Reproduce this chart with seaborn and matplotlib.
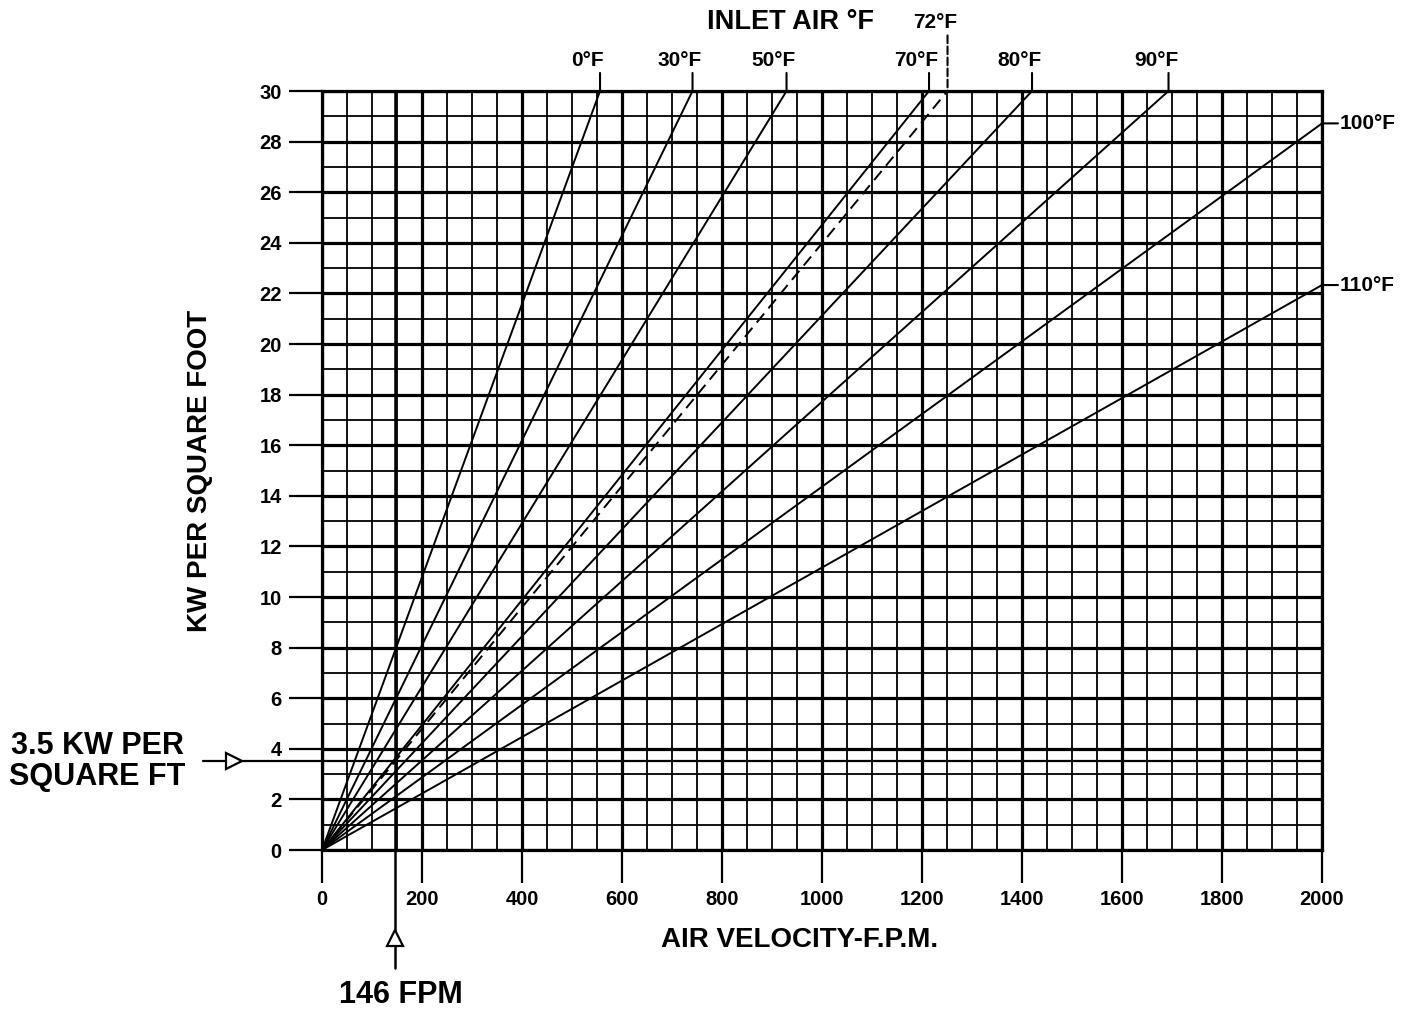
import numpy as np
import pandas as pd
import matplotlib.pyplot as plt
import seaborn as sns

# inlet air temperature lines: each runs from the origin to where it leaves the grid
temps = ["0°F", "30°F", "50°F", "70°F", "72°F", "80°F", "90°F", "100°F", "110°F"]
end_fpm = [556, 741, 929, 1214, 1251, 1420, 1693, 2000, 2000]
end_kw = [30, 30, 30, 30, 30, 30, 30, 28.72, 22.33]
dashed_temps = ["72°F"]

# design point marked by the two arrows
design_kw = 3.5
design_fpm = 146

x_ticks = list(range(0, 2001, 200))
y_ticks = list(range(0, 31, 2))

rows = []
for t, x, y in zip(temps, end_fpm, end_kw):
    rows.append({"temp": t, "fpm": 0, "kw": 0})
    rows.append({"temp": t, "fpm": x, "kw": y})
df = pd.DataFrame(rows)

sns.set_theme(style="white")
plt.rcParams['font.family'] = ['Liberation Sans', 'DejaVu Sans']
plt.rcParams['font.weight'] = 'bold'
plt.rcParams['text.color'] = 'black'
plt.rcParams['axes.labelcolor'] = 'black'
plt.rcParams['xtick.color'] = 'black'
plt.rcParams['ytick.color'] = 'black'

fig = plt.figure(figsize=(14.1, 10.1), dpi=100)
ax = fig.add_axes([0.2284, 0.1584, 0.7092, 0.7515])

# the grid: fine every 50 fpm / 1 kw, heavy every 200 fpm / 2 kw
ax.set_xlim(0, 2000)
ax.set_ylim(0, 30)
ax.set_xticks(x_ticks)
ax.set_yticks(y_ticks)
ax.set_xticks(np.arange(0, 2001, 50), minor=True)
ax.set_yticks(np.arange(0, 31, 1), minor=True)
ax.grid(which='major', color='black', lw=2.3, zorder=0)
ax.grid(which='minor', color='black', lw=1.3, zorder=0)
ax.set_axisbelow(True)
for s in ax.spines.values():
    s.set_linewidth(2.3)
    s.set_color('black')

ax.tick_params(which='major', direction='out', length=24, width=1.6, color='black',
               labelcolor='black', labelsize=14.5, pad=5, bottom=True, left=True)
ax.tick_params(which='minor', length=0)
for lab in ax.get_xticklabels() + ax.get_yticklabels():
    lab.set_fontweight('bold')

palette = {t: 'black' for t in temps}
dashes = {t: ((6, 3.5) if t in dashed_temps else "") for t in temps}
sns.lineplot(data=df, x="fpm", y="kw", hue="temp", style="temp", palette=palette,
             dashes=dashes, estimator=None, sort=False, legend=False, lw=1.4, ax=ax)

# leaders and temperature labels
for t, x, y in zip(temps, end_fpm, end_kw):
    ls = '--' if t in dashed_temps else '-'
    if y >= 30:
        up = 40 if t in dashed_temps else 13
        ax.annotate("", xy=(x, y), xytext=(0, up), textcoords='offset points',
                    arrowprops=dict(arrowstyle='-', lw=1.5, ls=ls, color='black',
                                    shrinkA=0, shrinkB=0), annotation_clip=False)
        ax.annotate(t, xy=(x, y), xytext=(-9, up + 9), textcoords='offset points',
                    ha='center', va='center', fontsize=15, fontweight='bold',
                    annotation_clip=False)
    else:
        ax.annotate("", xy=(x, y), xytext=(11.5, 0), textcoords='offset points',
                    arrowprops=dict(arrowstyle='-', lw=1.5, color='black',
                                    shrinkA=0, shrinkB=0), annotation_clip=False)
        ax.annotate(t, xy=(x, y), xytext=(12.5, 0), textcoords='offset points',
                    ha='left', va='center', fontsize=15, fontweight='bold',
                    annotation_clip=False)

# design point arrows
ty = ax.get_yaxis_transform()
tx = ax.get_xaxis_transform()
ax.plot([-0.119, 1.0], [design_kw, design_kw], color='black', lw=1.6,
        transform=ty, clip_on=False, zorder=4)
ax.plot([-0.088], [design_kw], marker='>', ms=11, mfc='white', mec='black', mew=1.6,
        transform=ty, clip_on=False, zorder=5)
ax.plot([design_fpm, design_fpm], [-0.155, 1.0], color='black', lw=1.8,
        transform=tx, clip_on=False, zorder=4)
ax.plot([design_fpm], [-0.116], marker='^', ms=11, mfc='white', mec='black', mew=1.6,
        transform=tx, clip_on=False, zorder=5)

ax.text(-0.225, design_kw, "3.5 KW PER\nSQUARE FT", transform=ty, ha='center',
        va='center', fontsize=22, fontweight='bold', linespacing=1.05)
ax.text(0.079, -0.191, "146 FPM", transform=ax.transAxes, ha='center', va='center',
        fontsize=22, fontweight='bold')

ax.set_xlabel("")
ax.set_ylabel("")
ax.text(0.478, -0.119, "AIR VELOCITY-F.P.M.", transform=ax.transAxes, ha='center',
        va='center', fontsize=20, fontweight='bold')
ax.text(-0.122, 0.5, "KW PER SQUARE FOOT", transform=ax.transAxes, ha='center',
        va='center', rotation=90, fontsize=20, fontweight='bold')
ax.text(0.468, 1.091, "INLET AIR °F", transform=ax.transAxes, ha='center',
        va='center', fontsize=19.5, fontweight='bold')

fig.savefig("out.png", dpi=100)
